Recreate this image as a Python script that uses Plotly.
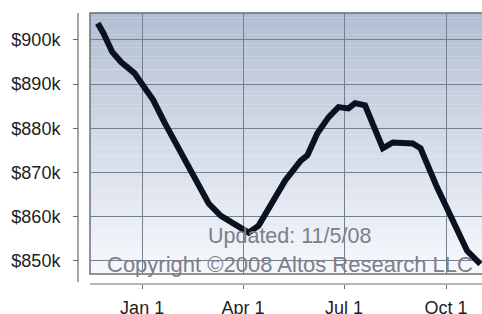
import plotly.graph_objects as go

W, H = 482, 314

# Data: median price, in $ thousands
dates = ["2007-11-22", "2007-11-27", "2007-12-05", "2007-12-13", "2007-12-25",
         "2008-01-02", "2008-01-11", "2008-01-21", "2008-01-30", "2008-02-08",
         "2008-02-16", "2008-03-01", "2008-03-12", "2008-03-30", "2008-04-06",
         "2008-04-15", "2008-04-29", "2008-05-09", "2008-05-23", "2008-05-29",
         "2008-06-07", "2008-06-17", "2008-06-26", "2008-07-05", "2008-07-11",
         "2008-07-20", "2008-08-05", "2008-08-14", "2008-09-01", "2008-09-08",
         "2008-09-23", "2008-10-08", "2008-10-20", "2008-11-01"]
values = [903.8, 901.6, 897.3, 895.0, 892.5,
          889.8, 886.4, 881.4, 877.3, 873.2,
          869.3, 863.0, 860.2, 857.3, 856.4,
          858.0, 863.6, 868.2, 872.7, 873.9,
          878.9, 882.5, 884.8, 884.5, 885.7,
          885.2, 875.5, 876.8, 876.6, 875.5,
          866.6, 858.4, 852.3, 849.3]

y_tickvals = [850, 860, 870, 880, 890, 900]
y_ticktext = ["$850k", "$860k", "$870k", "$880k", "$890k", "$900k"]
x_tickvals = ["2008-01-01", "2008-04-01", "2008-07-01", "2008-10-01"]
x_ticktext = ["Jan 1", "Apr 1", "Jul 1", "Oct 1"]

# layout geometry in page pixels
plot_left, plot_top, plot_bottom = 90, 13, 274
yaxis_x, xaxis_y = 78, 284

def px(x):
    return x / W

def py(y):
    return 1 - y / H

fig = go.Figure()
fig.add_trace(go.Scatter(
    x=dates, y=values, mode="lines",
    line=dict(color="#0a1222", width=6),
    hoverinfo="skip", showlegend=False,
))

shapes = []
# gradient background for plot area
N = 60
top_c = (178, 190, 210)
bot_c = (246, 248, 252)
y0p, y1p = py(plot_bottom), py(plot_top)
for i in range(N):
    t = i / (N - 1)
    c = tuple(round(top_c[k] + (bot_c[k] - top_c[k]) * t) for k in range(3))
    ya = y1p - (y1p - y0p) * i / N
    yb = y1p - (y1p - y0p) * (i + 1) / N
    shapes.append(dict(type="rect", xref="paper", yref="paper",
                       x0=px(plot_left), x1=1.0, y0=yb, y1=ya + 0.0005,
                       fillcolor="rgb(%d,%d,%d)" % c, line=dict(width=0), layer="below"))
# plot frame (left, top, bottom edges; right side runs off the picture)
shapes.append(dict(type="path", xref="paper", yref="paper",
                   path="M 1.0,%f L %f,%f L %f,%f L 1.0,%f" % (
                       py(plot_top), px(plot_left), py(plot_top),
                       px(plot_left), py(plot_bottom), py(plot_bottom)),
                   line=dict(color="#6a707a", width=1.5), layer="below"))
# offset axis lines
shapes.append(dict(type="line", xref="paper", yref="paper",
                   x0=px(yaxis_x), x1=px(yaxis_x), y0=py(282), y1=py(plot_top),
                   line=dict(color="#6a6a6a", width=1.2)))
shapes.append(dict(type="line", xref="paper", yref="paper",
                   x0=px(plot_left), x1=1.0, y0=py(xaxis_y), y1=py(xaxis_y),
                   line=dict(color="#6a6a6a", width=1.2)))

fig.update_layout(
    width=W, height=H,
    margin=dict(l=0, r=0, t=0, b=0, pad=0),
    paper_bgcolor="white",
    plot_bgcolor="rgba(0,0,0,0)",
    font=dict(family="Liberation Sans, Arial, sans-serif", color="#1e1e1e"),
    shapes=shapes,
    xaxis=dict(
        domain=[px(plot_left), 1.0],
        anchor="free", position=py(xaxis_y),
        automargin=False,
        type="date",
        range=["2007-11-15", "2008-11-02 10:00"],
        tickvals=x_tickvals, ticktext=x_ticktext,
        showgrid=True, gridcolor="#75808e", gridwidth=1,
        zeroline=False, showline=False,
        ticks="outside", ticklen=4, tickcolor="#6a6a6a",
        tickfont=dict(size=18, color="#1e1e1e"),
        ticklabelstandoff=3,
    ),
    yaxis=dict(
        domain=[py(plot_bottom), py(plot_top)],
        anchor="free", position=px(yaxis_x),
        automargin=False,
        range=[847.05, 906.1],
        tickvals=y_tickvals, ticktext=y_ticktext,
        showgrid=True, gridcolor="#75808e", gridwidth=1,
        zeroline=False, showline=False,
        ticks="outside", ticklen=5, tickcolor="#6a6a6a",
        tickfont=dict(size=18, color="#1e1e1e"),
        ticklabelstandoff=9,
    ),
    annotations=[
        dict(text="Updated: 11/5/08", xref="paper", yref="paper",
             x=px(289), y=py(236), xanchor="center", yanchor="middle",
             showarrow=False, font=dict(size=21.5, color="#7b8089")),
        dict(text="Copyright ©2008 Altos Research LLC", xref="paper", yref="paper",
             x=px(290), y=py(264), xanchor="center", yanchor="middle",
             showarrow=False, font=dict(size=22, color="#7b8089")),
    ],
)

fig.write_html("out.html",
               config={"displayModeBar": False, "staticPlot": True},
               post_script="document.body.style.margin='0';document.body.style.overflow='hidden';")
